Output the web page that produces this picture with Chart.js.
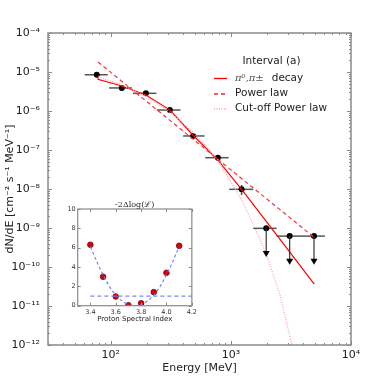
<!DOCTYPE html>
<html><head><meta charset="utf-8">
<script src="https://cdn.jsdelivr.net/npm/chart.js@4/dist/chart.umd.min.js"></script>
<style>
html,body{margin:0;padding:0;background:#fff;}
#wrap{position:relative;width:379px;height:385px;overflow:hidden;}
#main{position:absolute;left:0;top:0;}
#inset{position:absolute;left:50px;top:190px;}
</style></head><body>
<div id="wrap"><canvas id="main" width="379" height="385"></canvas><canvas id="inset" width="150" height="140"></canvas></div>
<script>
// ---------- main panel data ----------
const ptE   = [76.4, 123.5, 196, 310, 485, 779, 1228];
const ptF   = [8.5e-6, 3.9e-6, 2.84e-6, 1.06e-6, 2.29e-7, 6.35e-8, 9.8e-9];
const ptELo = [60.7, 96.8, 153, 242, 400, 611, 968];
const ptEHi = [94.4, 150, 240, 381, 603, 957, 1535];
const ptFLo = [null, null, null, null, null, null, 7.0e-9];
const ptFHi = [null, null, null, null, null, null, 1.27e-8];

const ulE   = [1968, 3085, 4920];
const ulF   = [9.8e-10, 6.2e-10, 6.2e-10];
const ulELo = [1535, 2402, 3830];
const ulEHi = [2402, 3830, 6067];
const ulTo  = [2.04e-10, 1.29e-10, 1.29e-10];

const pionE = [78.3, 78.3, 123.5, 195.8, 310, 482, 780, 1227, 2113, 4943];
const pionF = [7.45e-6, 6.5e-6, 4.37e-6, 2.57e-6, 1.07e-6, 2.43e-7, 5.5e-8, 9.8e-9, 1.12e-9, 3.63e-11];

const plE = [78.3, 4850];
const plF = [1.8e-5, 6.0e-10];

const cplE = [78.3, 123.5, 195.8, 310, 482, 780, 979, 1228, 1550, 1984, 2565, 3194, 3305];
const cplF = [7.67e-6, 4.64e-6, 2.43e-6, 9.42e-7, 2.9e-7, 5.55e-8, 1.7e-8, 5.22e-9, 1.19e-9, 2.03e-10, 1.9e-11, 1.12e-12, 6.6e-13];

const xTickVals   = [100, 1000, 10000];
const xTickLabels = ['10²', '10³', '10⁴'];
const yTickVals   = [1e-12, 1e-11, 1e-10, 1e-9, 1e-8, 1e-7, 1e-6, 1e-5, 1e-4];
const yTickLabels = ['10⁻¹²', '10⁻¹¹', '10⁻¹⁰', '10⁻⁹', '10⁻⁸', '10⁻⁷', '10⁻⁶', '10⁻⁵', '10⁻⁴'];

const legendTitle = 'Interval (a)';
const legendLabels = ['π⁰,π±', 'Power law', 'Cut-off Power law'];

// ---------- inset data ----------
const idxX  = [3.4, 3.5, 3.6, 3.7, 3.8, 3.9, 4.0, 4.1];
const idxY  = [6.3, 3.0, 0.95, 0.05, 0.25, 1.4, 3.4, 6.2];
const fitX  = [3.4, 3.5, 3.6, 3.7, 3.75, 3.8, 3.9, 4.0, 4.1];
const fitY  = [6.1, 3.2, 1.1, 0.1, 0.0, 0.1, 1.1, 3.2, 6.1];
const lvlX  = [3.4, 4.2];
const lvlY  = [1, 1];
const inXTicks = [3.4, 3.6, 3.8, 4.0, 4.2];
const inXLabels = ['3.4', '3.6', '3.8', '4.0', '4.2'];
const inYTicks = [0, 2, 4, 6, 8, 10];
const inYLabels = ['0', '2', '4', '6', '8', '10'];
const insetTitle = '-2Δlog(ℒ)';
const insetXLabel = 'Proton Spectral Index';

Chart.defaults.font.family = 'DejaVu Sans';
Chart.defaults.color = '#222';

const zip = (a, b) => a.map((v, i) => ({x: v, y: b[i]}));
const FRAME = '#8a8a8a';

function logMinor(lo, hi) {
  const out = [];
  for (let d = Math.floor(Math.log10(lo)); d <= Math.ceil(Math.log10(hi)); d++) {
    for (let m = 1; m < 10; m++) {
      const v = m * Math.pow(10, d);
      if (v >= lo * 0.999 && v <= hi * 1.001) out.push({v, major: m === 1});
    }
  }
  return out;
}

const mainDeco = {
  id: 'mainDeco',
  beforeDatasetsDraw(chart) {
    const {ctx, scales: {x, y}} = chart;
    ctx.save();
    ctx.lineCap = 'butt';
    ctx.strokeStyle = '#555'; ctx.lineWidth = 1.5;
    for (let i = 0; i < ptE.length; i++) {
      const py = y.getPixelForValue(ptF[i]);
      ctx.beginPath();
      ctx.moveTo(x.getPixelForValue(ptELo[i]), py);
      ctx.lineTo(x.getPixelForValue(ptEHi[i]), py);
      ctx.stroke();
      if (ptFLo[i] !== null) {
        const px = x.getPixelForValue(ptE[i]);
        ctx.beginPath();
        ctx.moveTo(px, y.getPixelForValue(ptFLo[i]));
        ctx.lineTo(px, y.getPixelForValue(ptFHi[i]));
        ctx.stroke();
      }
    }
    for (let i = 0; i < ulE.length; i++) {
      const py = y.getPixelForValue(ulF[i]);
      ctx.strokeStyle = '#555'; ctx.lineWidth = 1.5;
      ctx.beginPath();
      ctx.moveTo(x.getPixelForValue(ulELo[i]), py);
      ctx.lineTo(x.getPixelForValue(ulEHi[i]), py);
      ctx.stroke();
    }
    ctx.restore();
  },
  afterDatasetsDraw(chart) {
    const {ctx, scales: {x, y}} = chart;
    ctx.save();
    for (let i = 0; i < ulE.length; i++) {
      const px = x.getPixelForValue(ulE[i]);
      const py = y.getPixelForValue(ulF[i]);
      const pt = y.getPixelForValue(ulTo[i]);
      ctx.strokeStyle = '#333'; ctx.lineWidth = 1.2;
      ctx.beginPath(); ctx.moveTo(px, py); ctx.lineTo(px, pt - 3); ctx.stroke();
      ctx.fillStyle = '#000';
      ctx.beginPath();
      ctx.moveTo(px - 3.5, pt - 4); ctx.lineTo(px + 3.5, pt - 4); ctx.lineTo(px, pt + 2);
      ctx.closePath(); ctx.fill();
    }
    ctx.restore();
  },
  afterDraw(chart) {
    const {ctx, chartArea: a, scales: {x, y}} = chart;
    ctx.save();
    ctx.strokeStyle = FRAME; ctx.lineWidth = 1;
    for (const t of logMinor(x.min, x.max)) {
      const px = Math.round(x.getPixelForValue(t.v)) + 0.5;
      const L = t.major ? 4 : 2;
      ctx.beginPath();
      ctx.moveTo(px, a.bottom); ctx.lineTo(px, a.bottom - L);
      ctx.moveTo(px, a.top); ctx.lineTo(px, a.top + L);
      ctx.stroke();
    }
    for (const t of logMinor(y.min, y.max)) {
      const py = Math.round(y.getPixelForValue(t.v)) + 0.5;
      const L = t.major ? 4 : 2;
      ctx.beginPath();
      ctx.moveTo(a.left, py); ctx.lineTo(a.left + L, py);
      ctx.moveTo(a.right, py); ctx.lineTo(a.right - L, py);
      ctx.stroke();
    }
    ctx.lineWidth = 1.5;
    ctx.strokeRect(a.left, a.top, a.right - a.left, a.bottom - a.top);

    // legend
    ctx.fillStyle = '#222';
    ctx.textBaseline = 'middle';
    ctx.font = '10.5px "DejaVu Sans"';
    ctx.textAlign = 'center';
    ctx.fillText(legendTitle, 271.5, 61);
    const rows = [78, 93.5, 108.5];
    const styles = [
      {c: '#ff0000', d: []},
      {c: '#ff2020', d: [4, 3]},
      {c: '#ff9c9c', d: [1, 1.5]}
    ];
    for (let i = 0; i < 3; i++) {
      ctx.strokeStyle = styles[i].c; ctx.lineWidth = 1.3;
      ctx.setLineDash(styles[i].d);
      ctx.beginPath(); ctx.moveTo(214, rows[i] + 0.5); ctx.lineTo(227, rows[i] + 0.5); ctx.stroke();
      ctx.setLineDash([]);
    }
    ctx.textAlign = 'left';
    ctx.font = 'italic 10px "DejaVu Serif"';
    ctx.fillStyle = '#555';
    ctx.fillText(legendLabels[0], 235, rows[0]);
    const w = ctx.measureText(legendLabels[0]).width;
    ctx.font = '10.5px "DejaVu Sans"';
    ctx.fillStyle = '#222';
    ctx.fillText('decay', 235 + w + 8, rows[0]);
    ctx.fillText(legendLabels[1], 235, rows[1]);
    ctx.fillText(legendLabels[2], 235, rows[2]);
    ctx.restore();
  }
};

new Chart(document.getElementById('main'), {
  type: 'scatter',
  data: {
    datasets: [
      {data: zip(cplE, cplF), showLine: true, borderColor: '#ff9c9c', borderWidth: 1.2, borderDash: [1, 1.5], pointRadius: 0, tension: 0},
      {data: zip(plE, plF), showLine: true, borderColor: '#ff3030', borderWidth: 1.2, borderDash: [4, 3], pointRadius: 0, tension: 0},
      {data: zip(pionE, pionF), showLine: true, borderColor: '#ff0000', borderWidth: 1.2, pointRadius: 0, tension: 0},
      {data: zip(ptE, ptF), pointRadius: 3, backgroundColor: '#000', borderColor: '#000', borderWidth: 0},
      {data: zip(ulE, ulF), pointRadius: 3, backgroundColor: '#000', borderColor: '#000', borderWidth: 0}
    ]
  },
  options: {
    responsive: false, animation: false, devicePixelRatio: 1,
    layout: {padding: {left: 0, top: 33, right: 28, bottom: 0}},
    plugins: {legend: {display: false}, tooltip: {enabled: false}},
    scales: {
      x: {
        type: 'logarithmic', min: 30, max: 10000,
        afterFit(s) { s.height = 40; },
        afterBuildTicks(s) { s.ticks = xTickVals.map(v => ({value: v})); },
        grid: {display: false, drawTicks: false},
        border: {display: false},
        ticks: {autoSkip: false, maxRotation: 0, padding: 4, font: {size: 11}, color: '#222',
                callback: (v, i) => xTickLabels[i]},
        title: {display: true, text: 'Energy [MeV]', font: {size: 11}, color: '#222', padding: {top: 0, bottom: 10}}
      },
      y: {
        type: 'logarithmic', min: 1e-12, max: 1e-4,
        afterFit(s) { s.width = 48; },
        afterBuildTicks(s) { s.ticks = yTickVals.map(v => ({value: v})); },
        grid: {display: false, drawTicks: false},
        border: {display: false},
        ticks: {autoSkip: false, padding: 8, font: {size: 11}, color: '#222',
                callback: (v, i) => yTickLabels[i]},
        title: {display: true, text: 'dN/dE [cm⁻² s⁻¹ MeV⁻¹]', font: {size: 11}, color: '#222', padding: {top: 4, bottom: 0}}
      }
    }
  },
  plugins: [mainDeco]
});

// ---------- inset ----------
const insetDeco = {
  id: 'insetDeco',
  beforeDraw(chart) {
    const {ctx, chartArea: a} = chart;
    ctx.save(); ctx.fillStyle = '#fff';
    ctx.fillRect(a.left, a.top, a.right - a.left, a.bottom - a.top);
    ctx.restore();
  },
  afterDraw(chart) {
    const {ctx, chartArea: a, scales: {x, y}} = chart;
    ctx.save();
    ctx.strokeStyle = FRAME; ctx.lineWidth = 1;
    for (const v of inXTicks) {
      const px = Math.round(x.getPixelForValue(v)) + 0.5;
      ctx.beginPath();
      ctx.moveTo(px, a.bottom); ctx.lineTo(px, a.bottom - 3);
      ctx.moveTo(px, a.top); ctx.lineTo(px, a.top + 3);
      ctx.stroke();
    }
    for (const v of inYTicks) {
      const py = Math.round(y.getPixelForValue(v)) + 0.5;
      ctx.beginPath();
      ctx.moveTo(a.left, py); ctx.lineTo(a.left + 3, py);
      ctx.moveTo(a.right, py); ctx.lineTo(a.right - 3, py);
      ctx.stroke();
    }
    ctx.lineWidth = 1.2;
    ctx.strokeRect(a.left, a.top, a.right - a.left, a.bottom - a.top);
    ctx.fillStyle = '#222';
    ctx.font = '8px "DejaVu Serif"';
    ctx.textAlign = 'center'; ctx.textBaseline = 'middle';
    ctx.fillText(insetTitle, (a.left + a.right) / 2, 14.5);
    ctx.restore();
  }
};

new Chart(document.getElementById('inset'), {
  type: 'scatter',
  data: {
    datasets: [
      {data: zip(lvlX, lvlY), showLine: true, borderColor: '#7a86ff', borderWidth: 1.3, borderDash: [4, 3], pointRadius: 0},
      {data: zip(fitX, fitY), showLine: true, borderColor: '#6c78ff', borderWidth: 1.1, borderDash: [3, 2.5], pointRadius: 0, tension: 0.4},
      {data: zip(idxX, idxY), pointRadius: 2.8, backgroundColor: '#e00000', borderColor: '#700000', borderWidth: 0.8}
    ]
  },
  options: {
    responsive: false, animation: false, devicePixelRatio: 1,
    layout: {padding: {left: 0, top: 19, right: 5, bottom: 0}},
    plugins: {legend: {display: false}, tooltip: {enabled: false}},
    scales: {
      x: {
        type: 'linear', min: 3.3, max: 4.2,
        afterFit(s) { s.height = 24.3; },
        afterBuildTicks(s) { s.ticks = inXTicks.map(v => ({value: v})); },
        grid: {display: false, drawTicks: false},
        border: {display: false},
        ticks: {autoSkip: false, maxRotation: 0, padding: 3, font: {size: 6.5}, color: '#333',
                callback: (v, i) => inXLabels[i]},
        title: {display: true, text: insetXLabel, font: {size: 7}, color: '#222', padding: {top: 0, bottom: 7}}
      },
      y: {
        type: 'linear', min: 0, max: 10,
        afterFit(s) { s.width = 27.7; },
        afterBuildTicks(s) { s.ticks = inYTicks.map(v => ({value: v})); },
        grid: {display: false, drawTicks: false},
        border: {display: false},
        ticks: {autoSkip: false, padding: 2, font: {size: 6.5}, color: '#333',
                callback: (v, i) => inYLabels[i]}
      }
    }
  },
  plugins: [insetDeco]
});
</script>
</body></html>
